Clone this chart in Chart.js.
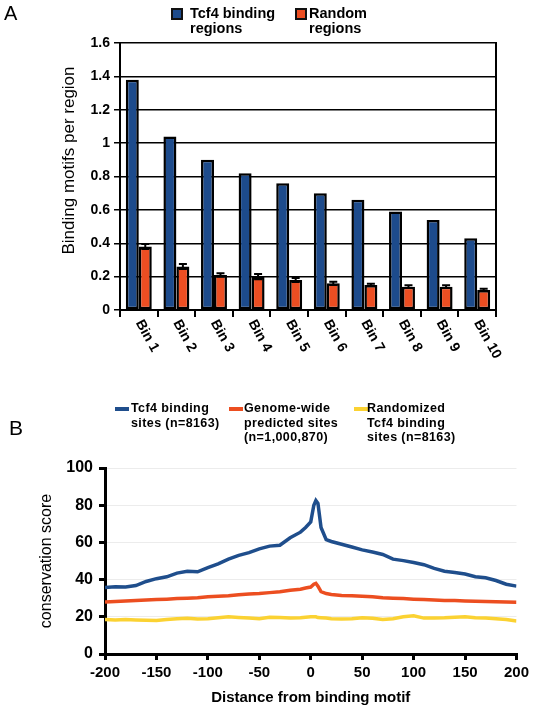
<!DOCTYPE html>
<html>
<head>
<meta charset="utf-8">
<script src="https://cdn.jsdelivr.net/npm/chart.js@4"></script>
<style>
  body { margin: 0; background: #fff; font-family: "Liberation Sans", Arial, sans-serif; color: #000; }
  #wrap { position: relative; width: 533px; height: 710px; overflow: hidden; }
  canvas { position: absolute; left: 0; }
  .abs { position: absolute; white-space: nowrap; }
  .panel { font-size: 20px; }
  .legA { font-size: 14.5px; font-weight: bold; line-height: 14.5px; }
  .box { position: absolute; width: 8px; height: 8px; border: 2px solid #111; }
  .legB { font-size: 12.5px; font-weight: bold; line-height: 14.6px; letter-spacing: 0.4px; }
  .swatch { position: absolute; width: 14px; height: 4px; }
</style>
</head>
<body>
<div id="wrap">
  <canvas id="chartA" width="533" height="370" style="top:0"></canvas>
  <canvas id="chartB" width="533" height="330" style="top:380px"></canvas>

  <div class="abs panel" style="left:4px; top:2px">A</div>
  <div class="box" style="left:171px; top:8px; background:#1d4b8c"></div>
  <div class="abs legA" style="left:190px; top:6px">Tcf4 binding<br>regions</div>
  <div class="box" style="left:295px; top:8px; background:#ec4e22"></div>
  <div class="abs legA" style="left:309px; top:6px">Random<br>regions</div>

  <div class="abs panel" style="left:9px; top:416px; font-size:21px">B</div>
  <div class="swatch" style="left:115px; top:407px; background:#1f4e8c"></div>
  <div class="abs legB" style="left:131px; top:401px">Tcf4 binding<br>sites (n=8163)</div>
  <div class="swatch" style="left:229px; top:407px; background:#ec4e20"></div>
  <div class="abs legB" style="left:244px; top:401px">Genome-wide<br>predicted sites<br>(n=1,000,870)</div>
  <div class="swatch" style="left:354px; top:407px; background:#fbd232"></div>
  <div class="abs legB" style="left:367px; top:401px">Randomized<br>Tcf4 binding<br>sites (n=8163)</div>
</div>

<script>
// Panel A: binding motifs per region, by bin
const bins = ['Bin 1', 'Bin 2', 'Bin 3', 'Bin 4', 'Bin 5', 'Bin 6', 'Bin 7', 'Bin 8', 'Bin 9', 'Bin 10'];
const tcf4Motifs = [1.38, 1.04, 0.90, 0.82, 0.76, 0.70, 0.66, 0.59, 0.54, 0.43];
const randomMotifs = [0.38, 0.26, 0.21, 0.20, 0.18, 0.16, 0.15, 0.14, 0.14, 0.12];
const randomErr = [0.015, 0.015, 0.01, 0.015, 0.012, 0.01, 0.008, 0.008, 0.008, 0.008];

// Panel B: conservation score around the binding motif
const distance = [-200, -190, -180, -170, -160, -150, -140, -130, -120, -110, -100, -90, -80, -70, -60, -50, -40, -30, -20, -10,
  -5, 0, 3, 5, 7, 10, 15,
  20, 30, 40, 50, 60, 70, 80, 90, 100, 110, 120, 130, 140, 150, 160, 170, 180, 190, 200];
const tcf4Sites = [35.8, 36.2, 36.0, 36.8, 39.0, 40.5, 41.5, 43.5, 44.5, 44.2, 46.5, 48.5, 51, 53, 54.5, 56.5, 58, 58.5, 62.5, 65.5,
  68, 71, 80, 82.5, 81, 68, 61.5,
  60.5, 59, 57.5, 56, 54.8, 53.5, 51, 50.2, 49.2, 48, 46, 44.5, 43.8, 43, 41.5, 41, 39.5, 37.5, 36.5];
const genomeSites = [28, 28.2, 28.5, 28.8, 29, 29.3, 29.5, 29.8, 30, 30.3, 30.8, 31, 31.3, 31.8, 32.2, 32.5, 33, 33.5, 34.3, 34.8,
  35.5, 36, 37.5, 38, 36.5, 33.5, 32.5,
  32, 31.5, 31.3, 31, 30.8, 30.3, 30, 29.8, 29.5, 29.3, 29, 28.8, 28.7, 28.5, 28.3, 28.2, 28.1, 28, 27.8];
const randomSites = [18.5, 18.3, 18.5, 18.3, 18.2, 18.0, 18.5, 19, 19.2, 18.8, 19, 19.5, 20, 19.6, 19.3, 19, 19.8, 19.6, 19.3, 19.5,
  19.8, 20, 20, 20, 19.6, 19.5, 19.3,
  19, 18.8, 19, 19.5, 19.2, 18.5, 19, 20, 20.5, 19.3, 19.4, 19.5, 19.8, 20, 19.5, 19.3, 19, 18.5, 17.8];

const FONT = '"Liberation Sans", Arial, sans-serif';
Chart.defaults.font.family = FONT;
Chart.defaults.color = '#000';

// frame, error bars, axis title and slanted bin labels for panel A
const panelAExtras = {
  id: 'panelAExtras',
  afterDatasetsDraw(chart) {
    const ctx = chart.ctx;
    const y = chart.scales.y;
    const meta = chart.getDatasetMeta(1);
    ctx.save();
    ctx.strokeStyle = '#000';
    ctx.lineWidth = 2;
    meta.data.forEach((bar, i) => {
      const top = y.getPixelForValue(randomMotifs[i] + randomErr[i]);
      const bot = y.getPixelForValue(randomMotifs[i] - randomErr[i]);
      ctx.beginPath();
      ctx.moveTo(bar.x, top); ctx.lineTo(bar.x, bot);
      ctx.moveTo(bar.x - 4, top); ctx.lineTo(bar.x + 4, top);
      ctx.moveTo(bar.x - 4, bot); ctx.lineTo(bar.x + 4, bot);
      ctx.stroke();
    });
    ctx.restore();
  },
  afterDraw(chart) {
    const ctx = chart.ctx;
    const a = chart.chartArea;
    const x = chart.scales.x;
    ctx.save();
    ctx.strokeStyle = '#000';
    ctx.lineWidth = 2;
    ctx.beginPath();
    ctx.moveTo(a.right, a.top - 1);
    ctx.lineTo(a.right, a.bottom + 1);
    ctx.stroke();
    ctx.fillStyle = '#000';

    // y title, sits a little above the plot centre as in the figure
    ctx.save();
    ctx.font = '17px ' + FONT;
    ctx.textAlign = 'center';
    ctx.textBaseline = 'middle';
    ctx.translate(69, (a.top + a.bottom) / 2 - 16);
    ctx.rotate(-Math.PI / 2);
    ctx.fillText('Binding motifs per region', 0, 0);
    ctx.restore();

    ctx.font = 'bold 14px ' + FONT;
    ctx.textAlign = 'left';
    ctx.textBaseline = 'middle';
    bins.forEach((b, i) => {
      ctx.save();
      ctx.translate(x.getPixelForValue(i), a.bottom + 11);
      ctx.rotate(61 * Math.PI / 180);
      ctx.fillText(b, 0, 0);
      ctx.restore();
    });
    ctx.restore();
  }
};

new Chart(document.getElementById('chartA'), {
  type: 'bar',
  data: {
    labels: bins,
    datasets: [{
      label: 'Tcf4 binding regions',
      data: tcf4Motifs,
      backgroundColor: '#1d4b8c',
      borderColor: '#000',
      borderWidth: 2.5,
      borderSkipped: false,
      categoryPercentage: 0.69,
      barPercentage: 1.0
    }, {
      label: 'Random regions',
      data: randomMotifs,
      backgroundColor: '#ec4e22',
      borderColor: '#000',
      borderWidth: 2.5,
      borderSkipped: false,
      categoryPercentage: 0.69,
      barPercentage: 1.0
    }]
  },
  options: {
    responsive: false,
    animation: false,
    layout: { padding: { top: 43, right: 37, left: 0, bottom: 0 } },
    plugins: { legend: { display: false }, tooltip: { enabled: false } },
    scales: {
      x: {
        grid: { drawOnChartArea: false, drawTicks: true, tickLength: 7, color: '#000', lineWidth: 2 },
        border: { color: '#000', width: 2 },
        ticks: { display: false },
        afterFit: s => { s.height = 60; }
      },
      y: {
        min: 0,
        max: 1.6,
        ticks: {
          stepSize: 0.2,
          padding: 4,
          font: { size: 14, weight: 'bold' },
          callback: v => String(Math.round(v * 10) / 10)
        },
        grid: { color: '#000', lineWidth: 1.5, tickLength: 6 },
        border: { color: '#000', width: 2 },
        afterFit: s => { s.width = 120; }
      }
    }
  },
  plugins: [panelAExtras]
});

const toPoints = vals => distance.map((d, i) => ({ x: d, y: vals[i] }));

new Chart(document.getElementById('chartB'), {
  type: 'line',
  data: {
    datasets: [{
      label: 'Tcf4 binding sites (n=8163)',
      data: toPoints(tcf4Sites),
      borderColor: '#1f4e8c',
      borderWidth: 3.5,
      pointRadius: 0
    }, {
      label: 'Genome-wide predicted sites (n=1,000,870)',
      data: toPoints(genomeSites),
      borderColor: '#ec4e20',
      borderWidth: 3.5,
      pointRadius: 0
    }, {
      label: 'Randomized Tcf4 binding sites (n=8163)',
      data: toPoints(randomSites),
      borderColor: '#fbd232',
      borderWidth: 3.5,
      pointRadius: 0
    }]
  },
  options: {
    responsive: false,
    animation: false,
    layout: { padding: { top: 88, right: 15, left: 0, bottom: 0 } },
    plugins: { legend: { display: false }, tooltip: { enabled: false } },
    scales: {
      x: {
        type: 'linear',
        min: -200,
        max: 200,
        ticks: { stepSize: 50, padding: 4, font: { size: 15, weight: 'bold' } },
        grid: { drawOnChartArea: false, tickLength: 6, color: '#000', lineWidth: 3 },
        border: { color: '#000', width: 3 },
        title: {
          display: true,
          text: 'Distance from binding motif',
          font: { size: 15, weight: 'bold' },
          padding: { top: 0, bottom: 3 }
        },
        afterFit: s => { s.height = 56; }
      },
      y: {
        min: 0,
        max: 100,
        ticks: { stepSize: 20, padding: 6, font: { size: 16, weight: 'bold' } },
        grid: { color: '#ececec', lineWidth: 1, tickColor: '#000', tickWidth: 3, tickLength: 6 },
        border: { color: '#000', width: 3 },
        title: {
          display: true,
          text: 'conservation score',
          font: { size: 16 },
          padding: { top: 37, bottom: 0 }
        },
        afterFit: s => { s.width = 105; }
      }
    }
  }
});
</script>
</body>
</html>
